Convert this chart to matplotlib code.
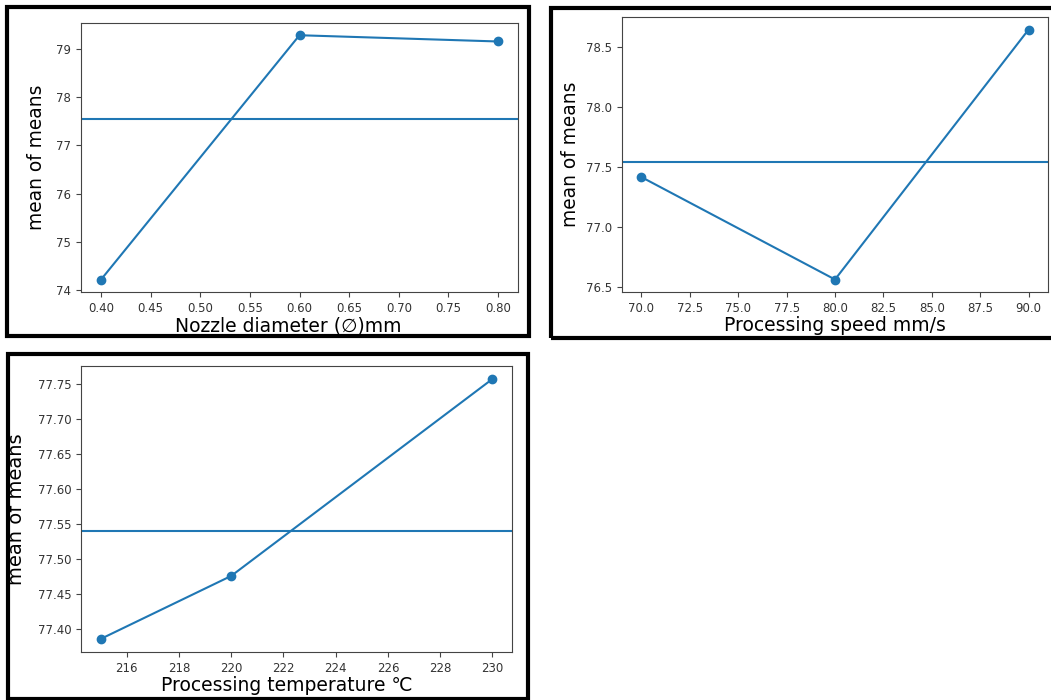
"""Main effects plot: mean of means for each process factor.

Three panels (nozzle diameter, processing speed, processing temperature),
each with the factor-level means and the grand mean as a horizontal line.
"""

import matplotlib
matplotlib.use("Agg")
from matplotlib import pyplot as plt
from matplotlib.patches import Rectangle

# Factor levels and the mean response at each level
NOZZLE_MM = [0.40, 0.60, 0.80]
NOZZLE_MEANS = [74.21, 79.29, 79.16]

SPEED_MM_S = [70.0, 80.0, 90.0]
SPEED_MEANS = [77.414, 76.56, 78.644]

TEMP_C = [215, 220, 230]
TEMP_MEANS = [77.386, 77.476, 77.757]

GRAND_MEAN = 77.54

LINE_COLOR = "#1f77b4"
SPINE_COLOR = "#444444"

W, H = 1051, 700   # figure size in pixels (dpi=100)


def _px_rect(left, top, right, bottom):
    """Pixel box (from top-left) -> figure-fraction [x, y, w, h]."""
    return [left / W, 1 - bottom / H, (right - left) / W, (bottom - top) / H]


def _frame(fig, left, top, right, bottom):
    # thick black frame around each panel
    x, y, w, h = _px_rect(left, top, right, bottom)
    fig.patches.append(Rectangle((x, y), w, h, transform=fig.transFigure,
                                 fill=False, edgecolor="black", lw=3.0,
                                 zorder=10))


def _panel(fig, box, xs, ys, xlabel, xlabel_x, ylabel_x, ylabel_size):
    ax = fig.add_axes(_px_rect(*box))
    ax.plot(xs, ys, marker="o", color=LINE_COLOR, lw=1.5, markersize=6)
    ax.axhline(GRAND_MEAN, color=LINE_COLOR, lw=1.5)
    ax.set_xlabel(xlabel, fontsize=13.5, labelpad=1)
    ax.xaxis.label.set_x(xlabel_x)
    ax.set_ylabel("mean of means", fontsize=ylabel_size)
    ax.yaxis.set_label_coords(ylabel_x, 0.5)
    ax.tick_params(labelsize=8.5, color=SPINE_COLOR, labelcolor="#333333")
    for sp in ax.spines.values():
        sp.set_color(SPINE_COLOR)
    return ax


fig = plt.figure(figsize=(W / 100, H / 100), dpi=100)

_frame(fig, 7, 7, 529, 336)
_frame(fig, 551, 8, 1054, 338)
_frame(fig, 8, 354, 528, 699)

_panel(fig, (81, 23, 518, 292), NOZZLE_MM, NOZZLE_MEANS,
       "Nozzle diameter (\u2205)mm", 0.474, (46 - 81) / 437, 13.4)
_panel(fig, (622, 17, 1048, 292), SPEED_MM_S, SPEED_MEANS,
       "Processing speed mm/s", 0.5, (580 - 622) / 426, 13.4)
_panel(fig, (81, 366, 512, 652), TEMP_C, TEMP_MEANS,
       "Processing temperature \u2103", 0.478, (26 - 81) / 431, 14)

fig.savefig("out.png", dpi=100)
